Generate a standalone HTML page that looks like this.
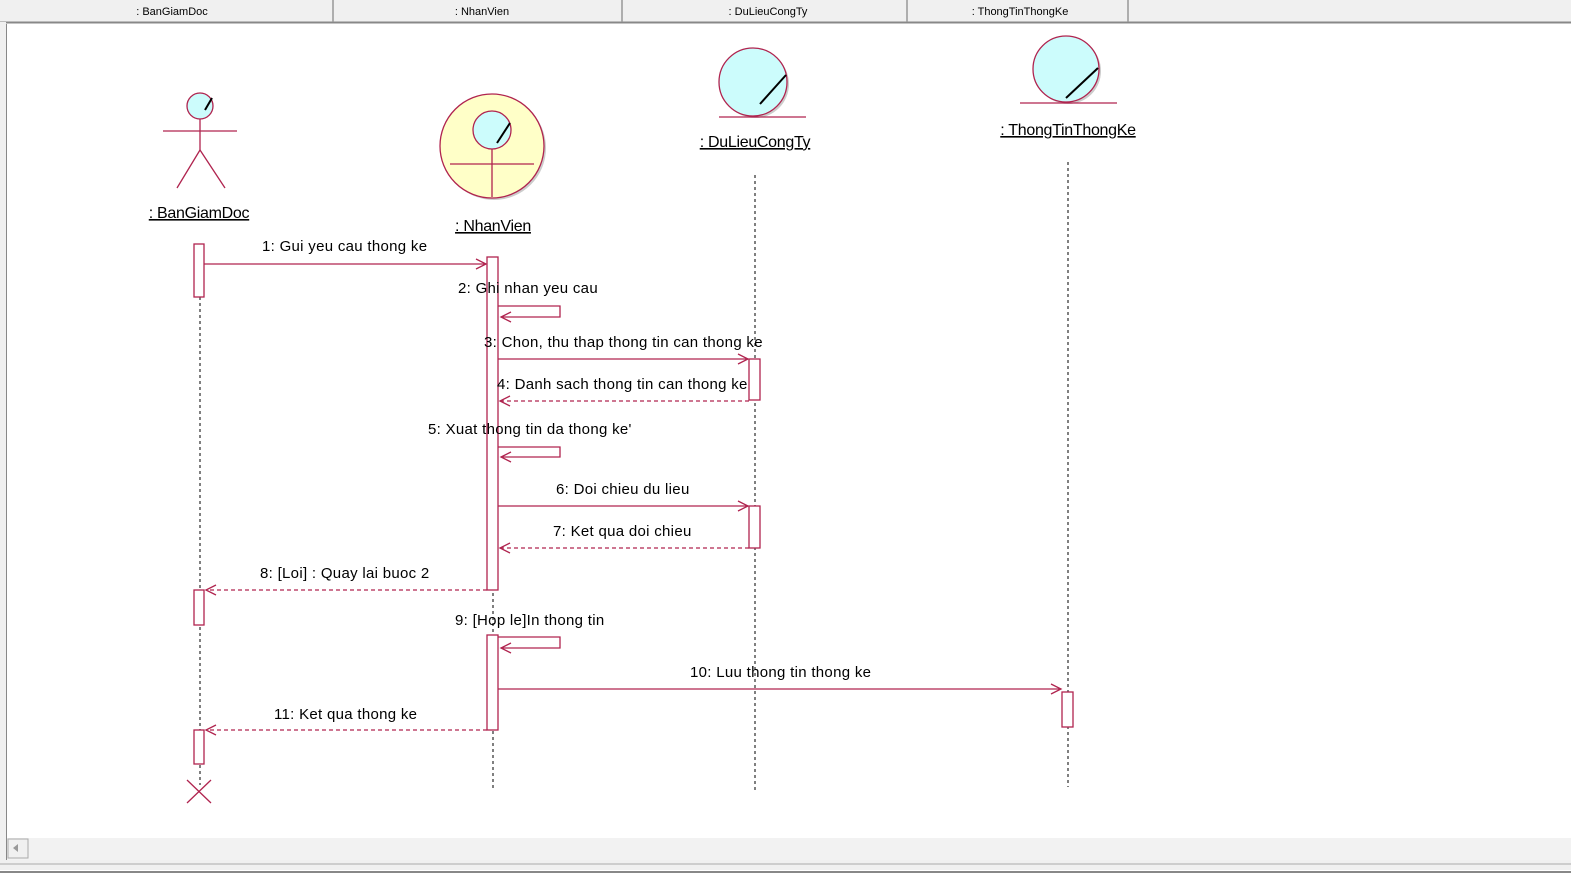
<!DOCTYPE html>
<html><head><meta charset="utf-8"><style>
body{margin:0;width:1571px;height:894px;overflow:hidden;background:#fff;font-family:"Liberation Sans",sans-serif}
svg{position:absolute;left:0;top:0}
</style></head><body>
<svg width="1571" height="894" xmlns="http://www.w3.org/2000/svg">
<rect x="0" y="0" width="1571" height="22" fill="#f0f0f0"/>
<line x1="0" y1="22.5" x2="1571" y2="22.5" stroke="#888" stroke-width="2"/>
<g stroke="#999" stroke-width="1.5"><line x1="333" y1="0" x2="333" y2="22"/><line x1="622" y1="0" x2="622" y2="22"/><line x1="907" y1="0" x2="907" y2="22"/><line x1="1128" y1="0" x2="1128" y2="22"/></g>
<g font-size="11" fill="#000" text-anchor="middle"><text x="172" y="15">: BanGiamDoc</text><text x="482" y="15">: NhanVien</text><text x="768" y="15">: DuLieuCongTy</text><text x="1020" y="15">: ThongTinThongKe</text></g>
<rect x="0" y="22" width="6" height="840" fill="#f0f0f0"/>
<line x1="6.5" y1="24" x2="6.5" y2="860" stroke="#888"/>
<rect x="7" y="838" width="1564" height="22" fill="#f2f2f2"/>
<rect x="8" y="839" width="20" height="19" fill="#f0f0f0" stroke="#aaa"/>
<path d="M13 848 L18 844 L18 852Z" fill="#999"/>
<rect x="0" y="860" width="1571" height="10" fill="#f0f0f0"/>
<line x1="0" y1="864" x2="1571" y2="864" stroke="#aaa"/>
<line x1="0" y1="872" x2="1571" y2="872" stroke="#888" stroke-width="2"/>

<g stroke="#000" stroke-dasharray="3,3" stroke-width="1"><line x1="200" y1="297" x2="200" y2="785"/><line x1="493" y1="257" x2="493" y2="790"/><line x1="755" y1="175" x2="755" y2="790"/><line x1="1068" y1="162" x2="1068" y2="787"/></g>

<g stroke="#b0244f" fill="none" stroke-width="1.3">
<circle cx="200" cy="106" r="13" fill="#ccfcfc"/>
<line x1="163" y1="131" x2="237" y2="131"/><line x1="200" y1="119" x2="200" y2="150"/>
<path d="M177 188 L200 150 L225 188"/>
<circle cx="494" cy="148" r="52" fill="#ccc" stroke="none"/>
<circle cx="492" cy="146" r="52" fill="#ffffc8"/>
<circle cx="492" cy="130" r="19" fill="#ccfcfc"/>
<line x1="492" y1="149" x2="492" y2="197"/><line x1="450" y1="164" x2="534" y2="164"/>
<circle cx="755" cy="84" r="34" fill="#ccc" stroke="none"/>
<circle cx="753" cy="82" r="34" fill="#ccfcfc"/>
<line x1="719" y1="117" x2="806" y2="117"/>
<circle cx="1068" cy="71" r="33" fill="#ccc" stroke="none"/>
<circle cx="1066" cy="69" r="33" fill="#ccfcfc"/>
<line x1="1020" y1="103" x2="1117" y2="103"/>
</g>
<g stroke="#000" stroke-width="2"><line x1="510" y1="123" x2="497" y2="143"/><line x1="786" y1="75" x2="760" y2="104"/><line x1="1098" y1="68" x2="1066" y2="98"/><line x1="212" y1="98" x2="205" y2="110"/></g>

<g font-size="16" fill="#000" text-decoration="underline" text-anchor="middle" letter-spacing="-0.3">
<text x="199" y="218">: BanGiamDoc</text><text x="493" y="231">: NhanVien</text><text x="755" y="147">: DuLieuCongTy</text><text x="1068" y="135">: ThongTinThongKe</text></g>

<g stroke="#b0244f" fill="#fff" stroke-width="1.3">
<rect x="194" y="244" width="10" height="53"/><rect x="194" y="590" width="10" height="35"/><rect x="194" y="730" width="10" height="34"/>
<rect x="487" y="257" width="11" height="333"/><rect x="487" y="635" width="11" height="95"/>
<rect x="749" y="359" width="11" height="41"/><rect x="749" y="506" width="11" height="42"/>
<rect x="1062" y="692" width="11" height="35"/>
</g>
<g stroke="#b0244f" fill="none" stroke-width="1.3">
<line x1="204" y1="264" x2="486" y2="264"/><path d="M476 259 L486 264 L476 269"/>
<path d="M498 306 H560 V317 H501"/><path d="M511 312 L501 317 L511 322"/>
<line x1="498" y1="359" x2="748" y2="359"/><path d="M738 354 L748 359 L738 364"/>
<line x1="749" y1="401" x2="500" y2="401" stroke-dasharray="4,3"/><path d="M510 396 L500 401 L510 406"/>
<path d="M498 447 H560 V457 H501"/><path d="M511 452 L501 457 L511 462"/>
<line x1="498" y1="506" x2="748" y2="506"/><path d="M738 501 L748 506 L738 511"/>
<line x1="749" y1="548" x2="500" y2="548" stroke-dasharray="4,3"/><path d="M510 543 L500 548 L510 553"/>
<line x1="487" y1="590" x2="206" y2="590" stroke-dasharray="4,3"/><path d="M216 585 L206 590 L216 595"/>
<path d="M498 637 H560 V648 H501"/><path d="M511 643 L501 648 L511 653"/>
<line x1="498" y1="689" x2="1061" y2="689"/><path d="M1051 684 L1061 689 L1051 694"/>
<line x1="487" y1="730" x2="206" y2="730" stroke-dasharray="4,3"/><path d="M216 725 L206 730 L216 735"/>
<path d="M187 780 L211 803 M211 780 L187 803"/>
</g>
<g font-size="15" fill="#000" letter-spacing="0.3">
<text x="262" y="251">1: Gui yeu cau thong ke</text>
<text x="458" y="293">2: Ghi nhan yeu cau</text>
<text x="484" y="347">3: Chon, thu thap thong tin can thong ke</text>
<text x="497" y="389">4: Danh sach thong tin can thong ke</text>
<text x="428" y="434">5: Xuat thong tin da thong ke'</text>
<text x="556" y="494">6: Doi chieu du lieu</text>
<text x="553" y="536">7: Ket qua doi chieu</text>
<text x="260" y="578">8: [Loi] : Quay lai buoc 2</text>
<text x="455" y="625">9: [Hop le]In thong tin</text>
<text x="690" y="677">10: Luu thong tin thong ke</text>
<text x="274" y="719">11: Ket qua thong ke</text>
</g>
</svg>
</body></html>
